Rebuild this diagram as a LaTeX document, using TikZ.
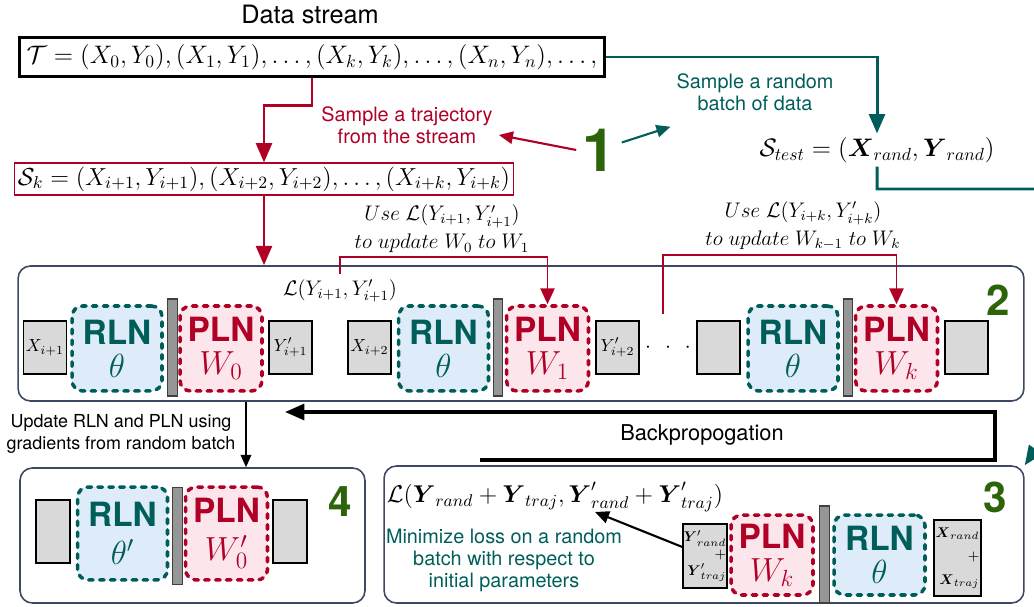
\documentclass[tikz,border=0pt]{standalone}
\usepackage{fix-cm}
\usepackage[no-math]{fontspec}
\setmainfont{TeX Gyre Heros}
\usepackage{amsmath}
\usetikzlibrary{arrows.meta}

\definecolor{trajred}{RGB}{176,0,38}
\definecolor{randteal}{RGB}{0,94,90}
\definecolor{stepgreen}{RGB}{45,100,10}
\definecolor{rlnfill}{RGB}{222,235,248}
\definecolor{plnfill}{RGB}{252,229,235}
\definecolor{panelline}{RGB}{60,72,100}
\definecolor{datafill}{RGB}{217,217,217}
\definecolor{barfill}{RGB}{150,150,150}

\tikzset{
  panel/.style={draw=panelline, line width=0.9pt, rounded corners=7pt, inner sep=0pt},
  net/.style={line width=2pt, dash pattern=on 2.6pt off 3.6pt, line cap=round,
    rounded corners=6pt, minimum width=1.8cm, minimum height=1.7cm, align=center,
    font=\fontsize{19}{18.6}\selectfont, inner sep=0pt},
  rln/.style={net, draw=randteal, fill=rlnfill, text=randteal},
  pln/.style={net, draw=trajred, fill=plnfill, text=trajred, minimum width=1.64cm},
  datum/.style={draw, line width=0.7pt, fill=datafill, minimum width=0.86cm,
    minimum height=1.06cm, inner sep=0pt},
  divider/.style={draw=black!75, fill=barfill, line width=0.6pt, minimum width=0.19cm,
    minimum height=1.94cm, inner sep=0pt},
  stepnum/.style={text=stepgreen, font=\fontsize{24}{24}\selectfont\bfseries},
  note/.style={font=\fontsize{11.3}{12.5}\selectfont, align=center},
  trajline/.style={draw=trajred, line width=1.7pt, -{Triangle[length=11pt,width=9pt]}},
  randline/.style={draw=randteal, line width=1.7pt, -{Triangle[length=11pt,width=9pt]}},
  updline/.style={draw=trajred, line width=1.1pt, -{Triangle[length=9pt,width=8pt]}},
  pointline/.style={line width=1.2pt, -{Triangle[length=8pt,width=7pt]}},
  backline/.style={draw=black, line width=2pt, -{Triangle[length=11pt,width=9pt]}},
  gradline/.style={draw=black, line width=1pt, -{Triangle[length=7pt,width=6pt]}},
}

\begin{document}
\begin{tikzpicture}[x=0.02cm,y=-0.02cm]
\useasboundingbox (0,0) rectangle (1034,607);
\clip (0,0) rectangle (1034,607);

% stage 1: the stream and the two samples
\node[font=\Large] (title) at (310,14) {Data stream};
\node[draw, line width=1.6pt, inner sep=4pt, font=\Large] (stream) at (312,57)
  {$\mathcal{T} = (X_0, Y_0), (X_1, Y_1), \ldots, (X_k, Y_k), \ldots, (X_n, Y_n), \ldots,$};
\node[draw=trajred, line width=0.8pt, inner sep=2pt, font=\fontsize{14}{17}\selectfont] (sk) at (264,179)
  {$\mathcal{S}_k = (X_{i+1}, Y_{i+1}), (X_{i+2}, Y_{i+2}), \ldots, (X_{i+k}, Y_{i+k})$};
\node[note, text=trajred] (trajtext) at (407,125) {Sample a trajectory\\from the stream};
\node[note, text=randteal] (randtext) at (755,92) {Sample a random\\batch of data};
\node[text=stepgreen, font=\fontsize{34}{34}\selectfont\bfseries] (one) at (599,150) {1};
\node[font=\Large, inner sep=2pt] (stest) at (877,150)
  {$\mathcal{S}_{test} = (\boldsymbol{X}_{rand}, \boldsymbol{Y}_{rand})$};

% panels
\node[panel, minimum width=20.12cm, minimum height=2.7cm] (phase2) at (521,333.5) {};
\node[panel, minimum width=12.8cm, minimum height=2.74cm] (phase3) at (704,534.5) {};
\node[panel, minimum width=6.9cm, minimum height=2.7cm] (phase4) at (192.5,535.5) {};

% stage 2: inner loop on the trajectory
\node[datum] (x1) at (45,347.5) {$X_{i+1}$};
\node[rln] (r1) at (117,348.5) {\textbf{RLN}\\$\theta$};
\node[divider] (b1) at (172.5,347.5) {};
\node[pln] (p1) at (221,348.5) {\textbf{PLN}\\$W_0$};
\node[datum] (y1) at (290.5,347.5) {$Y'_{i+1}$};
\node[datum] (x2) at (369.5,347.5) {$X_{i+2}$};
\node[rln] (r2) at (443.5,348.5) {\textbf{RLN}\\$\theta$};
\node[divider] (b2) at (498,347.5) {};
\node[pln] (p2) at (547.5,348.5) {\textbf{PLN}\\$W_1$};
\node[datum] (y2) at (617.5,347.5) {$Y'_{i+2}$};
\node[font=\large] (dots) at (668,348) {${\cdot}\hspace{8pt}{\cdot}\hspace{8pt}{\cdot}$};
\node[datum] (x3) at (718.5,347.5) {};
\node[rln] (r3) at (793,348.5) {\textbf{RLN}\\$\theta$};
\node[divider] (b3) at (848,347.5) {};
\node[pln] (p3) at (896.5,348.5) {\textbf{PLN}\\$W_k$};
\node[datum] (y3) at (966.5,347.5) {};
\node[stepnum] (two) at (998,300) {2};

\node[font=\large] (l1) at (340,291) {$\mathcal{L}(Y_{i+1}, Y'_{i+1})$};
\coordinate (u2) at (663,314);
\node[font=\fontsize{12}{16}\selectfont, align=center] (u1text) at (442,229)
  {$Use\ \mathcal{L}(Y_{i+1}, Y'_{i+1})$\\$to\ update\ W_0\ to\ W_1$};
\node[font=\fontsize{12}{16}\selectfont, align=center] (u2text) at (803,226)
  {$Use\ \mathcal{L}(Y_{i+k}, Y'_{i+k})$\\$to\ update\ W_{k-1}\ to\ W_k$};

% stage 4: updated network
\node[datum, minimum width=0.68cm, minimum height=1.26cm] (d4a) at (53,531.5) {};
\node[rln, minimum height=1.86cm] (r4) at (122.5,533.5) {\textbf{RLN}\\[3pt]$\theta'$};
\node[divider] (b4) at (177.5,536) {};
\node[pln, minimum height=1.86cm] (p4) at (226.5,533.5) {\textbf{PLN}\\[3pt]$W'_0$};
\node[datum, minimum width=0.68cm, minimum height=1.26cm] (d4b) at (290,531.5) {};
\node[stepnum] (four) at (340,502) {4};

% stage 3: meta loss on the random batch
\node[font=\fontsize{13.8}{16}\selectfont] (loss3) at (555,497)
  {$\mathcal{L}(\boldsymbol{Y}_{rand} + \boldsymbol{Y}_{traj}, \boldsymbol{Y}'_{rand} + \boldsymbol{Y}'_{traj})$};
\node[note, text=randteal] (minimize) at (504,560)
  {Minimize loss on a random\\batch with respect to\\initial parameters};
\node[datum, minimum width=0.88cm, minimum height=1.28cm, align=right, font=\footnotesize] (ys) at (705,556)
  {$\boldsymbol{Y}'_{rand}$\\$+$\\$\boldsymbol{Y}'_{traj}$};
\node[pln, minimum height=1.6cm] (p5) at (772,555) {\textbf{PLN}\\$W_k$};
\node[divider] (b5) at (824.5,554.5) {};
\node[rln, minimum width=1.82cm, minimum height=1.6cm] (r5) at (879.5,555) {\textbf{RLN}\\$\theta$};
\node[datum, minimum width=0.94cm, minimum height=1.52cm, align=right, font=\footnotesize] (xs) at (957.5,558)
  {$\boldsymbol{X}_{rand}$\\[4pt]$+$\\[4pt]$\boldsymbol{X}_{traj}$};
\node[stepnum] (three) at (995.5,497.5) {3};
\coordinate (lossin) at (595,512);

% backprop and update
\coordinate (bpstart) at (480,460);
\coordinate (bpturn) at (995,412);
\coordinate (bpend) at (285,412);
\node[font=\fontsize{12.4}{14}\selectfont] (bptext) at (702,435) {Backpropogation};
\coordinate (updx) at (246,0);
\node[font=\fontsize{10.2}{12.5}\selectfont, align=center] (updtext) at (121,434)
  {Update RLN and PLN using\\gradients from random batch};

% connectors
\draw[trajline] (stream.south) -- ++(0,27) -| (sk.north);
\draw[trajline] (sk.south) -- (sk.south |- phase2.north);
\draw[randline] (stream.east) -| (stest.north);
\draw[randline] (stest.south) |- (1070,189) -- (1070,400) -- (phase3.north east);
\draw[pointline, trajred] (one.west) -- ([yshift=-0.2cm]trajtext.east);
\draw[pointline, randteal] ([yshift=0.15cm]one.east) -- ([yshift=-0.2cm]randtext.south west);
\draw[updline] (l1.north) -- (l1.north |- 0,257) -| (p2.north);
\draw[updline] (u2) -- (u2 |- 0,255) -| (p3.north);
\draw[backline] (bpstart) -| (bpturn) -- (bpend);
\draw[gradline] (phase2.south -| updx) -- (phase4.north -| updx);
\draw[pointline, black] ([yshift=0.18cm]ys.west) -- (lossin);
\end{tikzpicture}
\end{document}
